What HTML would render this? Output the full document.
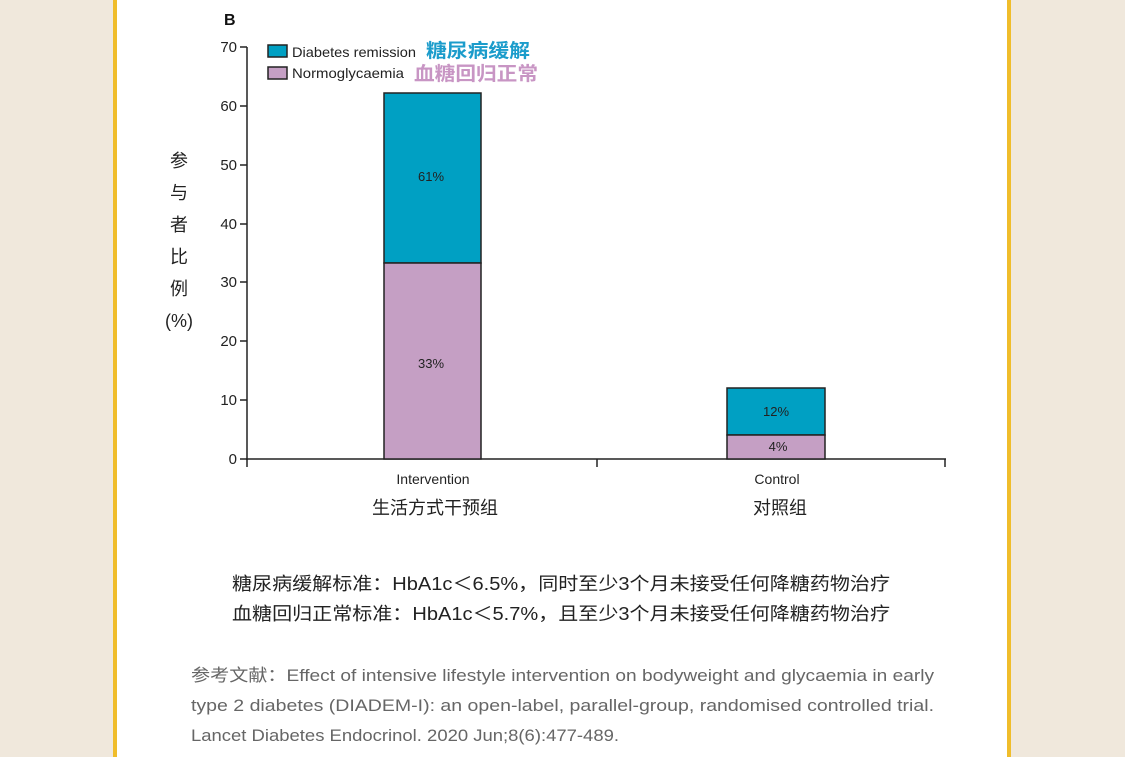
<!DOCTYPE html>
<html><head><meta charset="utf-8"><style>
html,body{margin:0;padding:0;}
body{width:1125px;height:757px;background:#f0e8dc;position:relative;overflow:hidden;font-family:"Liberation Sans","Noto Sans CJK SC",sans-serif;}
#card{position:absolute;left:113px;top:0;width:898px;height:757px;background:#fff;box-sizing:border-box;border-left:4px solid #f0bd2b;border-right:4px solid #f0bd2b;}
svg{position:absolute;left:0;top:0;}
</style></head><body>
<div id="card"></div>
<svg width="1125" height="757" font-family="Liberation Sans, Noto Sans CJK SC, sans-serif">
<text x="224" y="25" font-size="16" font-weight="bold" fill="#111">B</text>
<g stroke="#222" stroke-width="1.5" fill="none">
<line x1="247" y1="47" x2="247" y2="460"/>
<line x1="246" y1="459" x2="946" y2="459"/>
<line x1="240" y1="47" x2="247" y2="47"/>
<line x1="240" y1="106" x2="247" y2="106"/>
<line x1="240" y1="165" x2="247" y2="165"/>
<line x1="240" y1="224" x2="247" y2="224"/>
<line x1="240" y1="282" x2="247" y2="282"/>
<line x1="240" y1="341" x2="247" y2="341"/>
<line x1="240" y1="400" x2="247" y2="400"/>
<line x1="240" y1="459" x2="247" y2="459"/>
<line x1="247" y1="459" x2="247" y2="467"/>
<line x1="597" y1="459" x2="597" y2="467"/>
<line x1="945" y1="459" x2="945" y2="467"/>
</g>
<g font-size="15" fill="#222" text-anchor="end">
<text x="237" y="52">70</text><text x="237" y="111">60</text><text x="237" y="170">50</text>
<text x="237" y="229">40</text><text x="237" y="287">30</text><text x="237" y="346">20</text>
<text x="237" y="405">10</text><text x="237" y="464">0</text>
</g>
<g stroke="#222" stroke-width="1.5">
<rect x="384" y="93" width="97" height="170" fill="#00a0c3"/>
<rect x="384" y="263" width="97" height="196" fill="#c59fc4"/>
<rect x="727" y="388" width="98" height="47" fill="#00a0c3"/>
<rect x="727" y="435" width="98" height="24" fill="#c59fc4"/>
<rect x="268" y="45" width="19" height="12" fill="#00a0c3"/>
<rect x="268" y="67" width="19" height="12" fill="#c59fc4"/>
</g>
<g font-size="13" fill="#222" text-anchor="middle">
<text x="431" y="181">61%</text><text x="431" y="368">33%</text>
<text x="776" y="416">12%</text><text x="778" y="451">4%</text>
<text x="433" y="484" font-size="14">Intervention</text><text x="777" y="484" font-size="14">Control</text>
</g>
<text x="292" y="57" font-size="14" fill="#222" textLength="124" lengthAdjust="spacingAndGlyphs">Diabetes remission</text>
<text x="292" y="78" font-size="14" fill="#222" textLength="112" lengthAdjust="spacingAndGlyphs">Normoglycaemia</text>
<text x="426" y="57" font-size="19" font-weight="bold" fill="#1b9ccb" textLength="104" lengthAdjust="spacingAndGlyphs">糖尿病缓解</text>
<text x="414" y="80" font-size="19" font-weight="bold" fill="#c895c4" textLength="124" lengthAdjust="spacingAndGlyphs">血糖回归正常</text>
<g font-size="18" fill="#222" text-anchor="middle">
<text x="179" y="167">参</text><text x="179" y="199">与</text><text x="179" y="231">者</text>
<text x="179" y="263">比</text><text x="179" y="295">例</text><text x="179" y="327">(%)</text>
<text x="435" y="514">生活方式干预组</text><text x="780" y="514">对照组</text>
</g>
<text x="232" y="590" font-size="18" fill="#222" textLength="658" lengthAdjust="spacingAndGlyphs">糖尿病缓解标准：HbA1c＜6.5%，同时至少3个月未接受任何降糖药物治疗</text>
<text x="232" y="620" font-size="18" fill="#222" textLength="658" lengthAdjust="spacingAndGlyphs">血糖回归正常标准：HbA1c＜5.7%，且至少3个月未接受任何降糖药物治疗</text>
<g font-size="17" fill="#666">
<text x="191" y="681" textLength="743" lengthAdjust="spacingAndGlyphs">参考文献：Effect of intensive lifestyle intervention on bodyweight and glycaemia in early</text>
<text x="191" y="711" textLength="743" lengthAdjust="spacingAndGlyphs">type 2 diabetes (DIADEM-I): an open-label, parallel-group, randomised controlled trial.</text>
<text x="191" y="741" textLength="428" lengthAdjust="spacingAndGlyphs">Lancet Diabetes Endocrinol. 2020 Jun;8(6):477-489.</text>
</g>
</svg>
</body></html>
